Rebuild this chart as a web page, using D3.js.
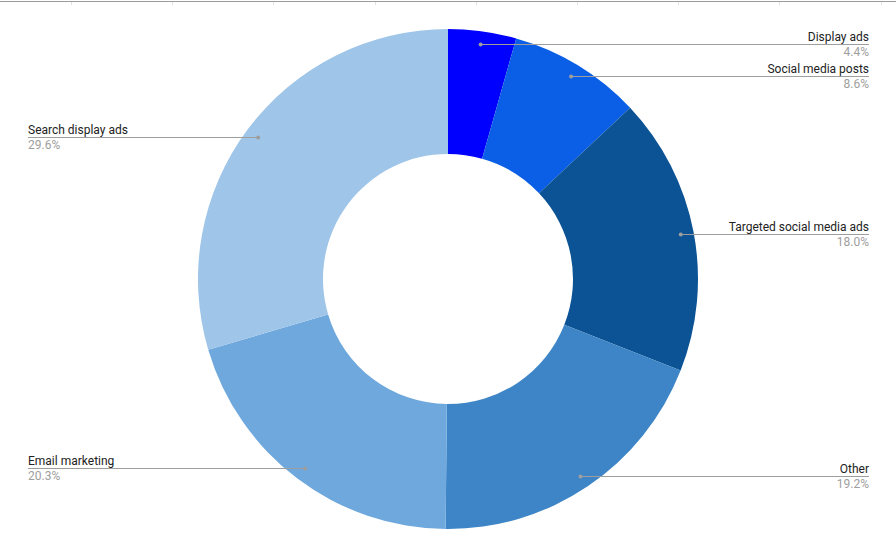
<!DOCTYPE html>
<html>
<head>
<meta charset="utf-8">
<script src="https://cdn.jsdelivr.net/npm/d3@7"></script>
<style>
  html, body { margin: 0; padding: 0; background: #fff; }
  text { font-family: Roboto, "Noto Sans", sans-serif; font-size: 12px; }
</style>
</head>
<body>
<div id="chart"></div>
<script>
'use strict';

// fatias no sentido horario a partir do topo
var categorias = ['Display ads', 'Social media posts', 'Targeted social media ads', 'Other', 'Email marketing', 'Search display ads'];
var valores    = [4.4, 8.6, 18.0, 19.2, 20.3, 29.6];
var rotulos    = ['4.4%', '8.6%', '18.0%', '19.2%', '20.3%', '29.6%'];
var cores      = ['#0000ff', '#0b5fe6', '#0b5394', '#3d85c6', '#6fa8dc', '#9fc5e8'];

function rosca()
{
    var scope = this;
    var exports = {};

    scope.cw = 896;
    scope.ch = 556;
    scope.cx = 448;
    scope.cy = 279;
    scope.outer = 250;
    scope.inner = 125;
    scope.dotR = 237;
    scope.leftX = 28;
    scope.rightX = 869;

    scope.appendSvg = function(div)
    {
        return d3.select(div).append('svg')
            .attr('width', scope.cw)
            .attr('height', scope.ch);
    }

    // borda cinza no topo (cabecalho da planilha)
    scope.appendTopBorder = function(svg)
    {
        svg.append('line')
            .attr('x1', 0).attr('x2', scope.cw)
            .attr('y1', 1.5).attr('y2', 1.5)
            .style('stroke', '#9a9a9a')
            .style('stroke-width', 1.2);

        var ticks = d3.range(71, scope.cw, 101.2);
        svg.selectAll('line.tick')
            .data(ticks)
            .enter()
            .append('line')
            .attr('class', 'tick')
            .attr('x1', function(d){ return Math.round(d) + 0.5; })
            .attr('x2', function(d){ return Math.round(d) + 0.5; })
            .attr('y1', 2).attr('y2', 5)
            .style('stroke', '#e2e2e2');
    }

    scope.appendSlices = function(svg)
    {
        var pie = d3.pie().sort(null).value(function(d){ return d.valor; });
        var arc = d3.arc().innerRadius(scope.inner).outerRadius(scope.outer);
        var dotArc = d3.arc().innerRadius(scope.dotR).outerRadius(scope.dotR);

        var dados = categorias.map(function(c, i){
            return {'cat': c, 'valor': valores[i], 'rotulo': rotulos[i], 'cor': cores[i]};
        });
        var arcs = pie(dados);

        var g = svg.append('g')
            .attr('transform', 'translate(' + scope.cx + ',' + scope.cy + ')');

        g.selectAll('path')
            .data(arcs)
            .enter()
            .append('path')
            .attr('d', arc)
            .style('fill', function(d){ return d.data.cor; })
            .style('stroke', 'none');

        // rotulos com linha guia
        var lab = g.selectAll('g.lab')
            .data(arcs)
            .enter()
            .append('g')
            .attr('class', 'lab');

        lab.each(function(d){
            var p = dotArc.centroid(d);
            var dir = p[0] >= 0;
            var tx = dir ? scope.rightX - scope.cx : scope.leftX - scope.cx;
            var y = Math.round(p[1]) + 0.5;
            var sel = d3.select(this);

            sel.append('line')
                .attr('x1', p[0]).attr('x2', tx)
                .attr('y1', y).attr('y2', y)
                .style('stroke', '#9e9e9e')
                .style('stroke-width', 1);

            sel.append('circle')
                .attr('cx', p[0]).attr('cy', y)
                .attr('r', 2)
                .style('fill', '#9e9e9e');

            sel.append('text')
                .attr('x', tx).attr('y', y - 4)
                .style('text-anchor', dir ? 'end' : 'start')
                .style('fill', '#222222')
                .text(d.data.cat);

            sel.append('text')
                .attr('x', tx).attr('y', y + 11)
                .style('text-anchor', dir ? 'end' : 'start')
                .style('fill', '#9e9e9e')
                .text(d.data.rotulo);
        });
    }

    exports.run = function(div)
    {
        var svg = scope.appendSvg(div);
        scope.appendTopBorder(svg);
        scope.appendSlices(svg);
    }

    return exports;
}

var chart = new rosca();
chart.run('#chart');
</script>
</body>
</html>
